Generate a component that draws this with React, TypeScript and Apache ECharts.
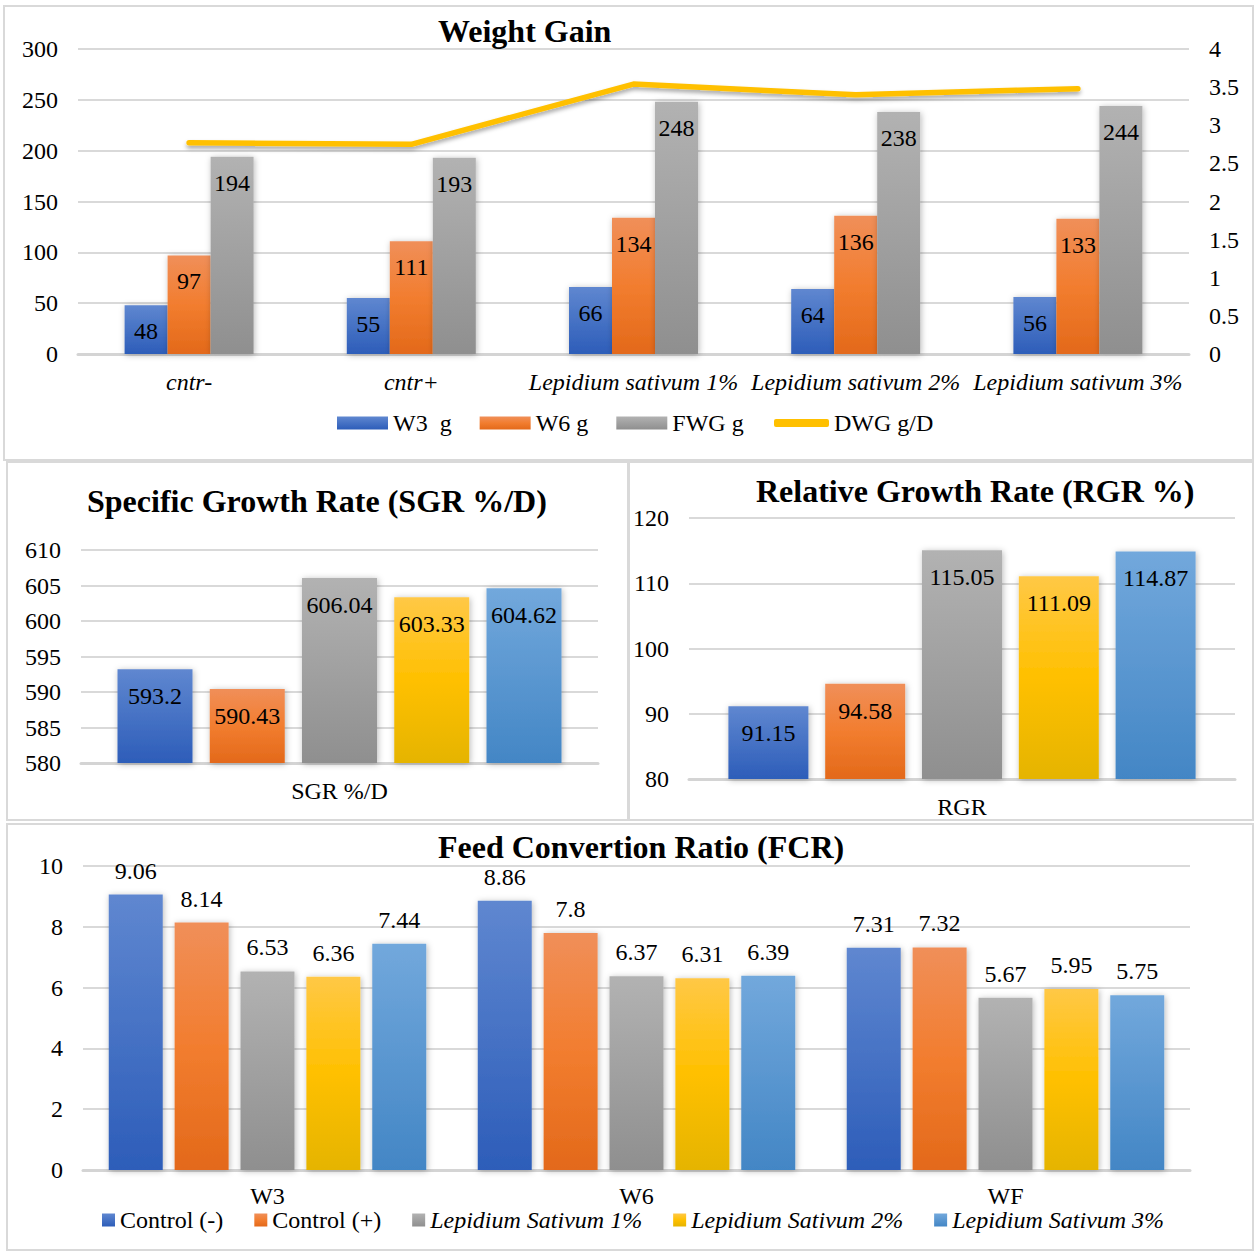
import React, { useEffect, useRef } from "react";
import * as echarts from "echarts";

// ---------- DATA ----------
const wgCategories = ["cntr-", "cntr+", "Lepidium sativum 1%", "Lepidium sativum 2%", "Lepidium sativum 3%"];
const wgW3 = [48, 55, 66, 64, 56];
const wgW6 = [97, 111, 134, 136, 133];
const wgFWG = [194, 193, 248, 238, 244];
const wgDWG = [2.77, 2.75, 3.54, 3.4, 3.48];
const wgSeriesNames = ["W3  g", "W6 g", "FWG g", "DWG g/D"];

const treatments = ["Control (-)", "Control (+)", "Lepidium Sativum 1%", "Lepidium Sativum 2%", "Lepidium Sativum 3%"];
const sgrCategory = ["SGR %/D"];
const sgrValues = [593.2, 590.43, 606.04, 603.33, 604.62];
const rgrCategory = ["RGR"];
const rgrValues = [91.15, 94.58, 115.05, 111.09, 114.87];

const fcrCategories = ["W3", "W6", "WF"];
const fcrControlNeg = [9.06, 8.86, 7.31];
const fcrControlPos = [8.14, 7.8, 7.32];
const fcrLS1 = [6.53, 6.37, 5.67];
const fcrLS2 = [6.36, 6.31, 5.95];
const fcrLS3 = [7.44, 6.39, 5.75];

const titles = ["Weight Gain", "Specific Growth Rate (SGR %/D)", "Relative Growth Rate (RGR %)", "Feed Convertion Ratio (FCR)"];

// ---------- STYLE ----------
const FONT = "'Liberation Serif', 'Times New Roman', serif";
const FS = 24;
const grad = (stops: [number, string][]) =>
  new echarts.graphic.LinearGradient(0, 0, 0, 1, stops.map(([offset, color]) => ({ offset, color })));
const palette = [
  () => grad([[0, "#5F87D0"], [1, "#2D5DB9"]]),
  () => grad([[0, "#F08F59"], [0.5, "#F27D2F"], [1, "#E3691A"]]),
  () => grad([[0, "#B2B2B2"], [1, "#8F8F8F"]]),
  () => grad([[0, "#FFC846"], [0.5, "#FFC000"], [1, "#E5B400"]]),
  () => grad([[0, "#72A8DC"], [1, "#4386C5"]]),
];
const barShadow = { shadowBlur: 6, shadowColor: "rgba(0,0,0,0.28)", shadowOffsetX: 1, shadowOffsetY: 1 };
const gridLine = { show: true, lineStyle: { color: "#D9D9D9", width: 2 } };
const axisLineStyle = { show: true, lineStyle: { color: "#D4D4D4", width: 3 } };
const txt = { color: "#000", fontFamily: FONT, fontSize: FS };

export default function App() {
  const ref = useRef<HTMLDivElement>(null);
  useEffect(() => {
    if (!ref.current) return;
    const chart = echarts.init(ref.current, null, { renderer: "svg" });

    const valueAxis = (gridIndex: number, min: number, max: number, interval: number, extra: any = {}) => ({
      type: "value",
      gridIndex,
      min,
      max,
      interval,
      splitLine: gridLine,
      axisLine: { show: false },
      axisTick: { show: false },
      axisLabel: { ...txt, margin: 20 },
      ...extra,
    });
    const catAxis = (gridIndex: number, data: string[], extraLabel: any = {}) => ({
      type: "category",
      gridIndex,
      data,
      axisTick: { show: false },
      axisLine: axisLineStyle,
      axisLabel: { ...txt, margin: 16, interval: 0, ...extraLabel },
    });

    const series: any[] = [];
    // Weight gain bars
    [wgW3, wgW6, wgFWG].forEach((d, i) => {
      series.push({
        type: "bar",
        name: wgSeriesNames[i],
        xAxisIndex: 0,
        yAxisIndex: 0,
        data: d,
        barWidth: 43,
        barGap: "0%",
        itemStyle: { color: palette[i](), ...barShadow },
        label: { show: true, position: "insideTop", distance: 14, ...txt },
      });
    });
    series.push({
      type: "line",
      name: wgSeriesNames[3],
      xAxisIndex: 0,
      yAxisIndex: 1,
      data: wgDWG,
      showSymbol: false,
      symbol: "none",
      lineStyle: { color: "#FFC000", width: 5.5, cap: "round", join: "round", shadowBlur: 4, shadowColor: "rgba(0,0,0,0.35)", shadowOffsetY: 3 },
      itemStyle: { color: "#FFC000" },
      label: { show: true, position: "top", distance: 19, ...txt },
      z: 5,
    });
    // SGR
    sgrValues.forEach((v, i) => {
      series.push({
        type: "bar",
        name: treatments[i],
        xAxisIndex: 1,
        yAxisIndex: 2,
        data: [v],
        barWidth: 75,
        barGap: "23%",
        itemStyle: { color: palette[i](), ...barShadow },
        label: { show: true, position: "insideTop", distance: 15, ...txt },
      });
    });
    // RGR
    rgrValues.forEach((v, i) => {
      series.push({
        type: "bar",
        name: treatments[i],
        xAxisIndex: 2,
        yAxisIndex: 3,
        data: [v],
        barWidth: 80,
        barGap: "21%",
        itemStyle: { color: palette[i](), ...barShadow },
        label: { show: true, position: "insideTop", distance: 15, ...txt },
      });
    });
    // FCR
    [fcrControlNeg, fcrControlPos, fcrLS1, fcrLS2, fcrLS3].forEach((d, i) => {
      series.push({
        type: "bar",
        name: treatments[i],
        xAxisIndex: 3,
        yAxisIndex: 4,
        data: d,
        barWidth: 54,
        barGap: "22%",
        itemStyle: { color: palette[i](), ...barShadow },
        label: { show: true, position: "top", distance: 12, ...txt },
      });
    });

    const border = (x: number, y: number, w: number, h: number) => ({
      type: "rect",
      shape: { x, y, width: w, height: h },
      style: { fill: "none", stroke: "#D9D9D9", lineWidth: 2 },
      silent: true,
    });

    chart.setOption({
      animation: false,
      backgroundColor: "#fff",
      textStyle: { fontFamily: FONT },
      graphic: [
        border(4, 6, 1249, 454),
        border(7, 462, 621, 358),
        border(629, 462, 624, 358),
        border(7, 824, 1246, 426),
      ],
      title: [
        { text: titles[0], left: 438, top: 15 },
        { text: titles[1], left: 87, top: 485 },
        { text: titles[2], left: 756, top: 475 },
        { text: titles[3], left: 438, top: 831 },
      ].map((t) => ({ ...t, padding: 0, textStyle: { color: "#000", fontFamily: FONT, fontSize: 32, fontWeight: "bold" } })),
      legend: [
        {
          data: wgSeriesNames.slice(0, 3),
          left: 337,
          top: 411,
          padding: 0,
          itemWidth: 51,
          itemHeight: 13,
          itemGap: 28,
          icon: "rect",
          textStyle: { ...txt },
        },
        {
          data: [wgSeriesNames[3]],
          left: 774,
          top: 411,
          padding: 0,
          itemWidth: 55,
          itemHeight: 8,
          icon: "roundRect",
          textStyle: { ...txt },
        },
        {
          data: treatments,
          left: 102,
          top: 1208,
          padding: 0,
          itemWidth: 13,
          itemHeight: 13,
          itemGap: 31,
          icon: "rect",
          formatter: (name: string) => (name.startsWith("Lepidium") ? `{i|${name}}` : name),
          textStyle: { ...txt, rich: { i: { ...txt, fontStyle: "italic" } } },
        },
      ],
      grid: [
        { left: 78, top: 49, width: 1111, height: 305 },
        { left: 81, top: 550, width: 517, height: 213 },
        { left: 689, top: 518, width: 546, height: 261 },
        { left: 83, top: 866, width: 1107, height: 304 },
      ],
      xAxis: [
        catAxis(0, wgCategories, { fontStyle: "italic" }),
        catAxis(1, sgrCategory),
        catAxis(2, rgrCategory),
        catAxis(3, fcrCategories, { margin: 14 }),
      ],
      yAxis: [
        valueAxis(0, 0, 300, 50),
        valueAxis(0, 0, 4, 0.5, { position: "right", splitLine: { show: false } }),
        valueAxis(1, 580, 610, 5),
        valueAxis(2, 80, 120, 10),
        valueAxis(3, 0, 10, 2),
      ],
      series,
    });
    return () => chart.dispose();
  }, []);
  return <div ref={ref} style={{ position: "absolute", left: 0, top: 0, width: 1255, height: 1252 }} />;
}
